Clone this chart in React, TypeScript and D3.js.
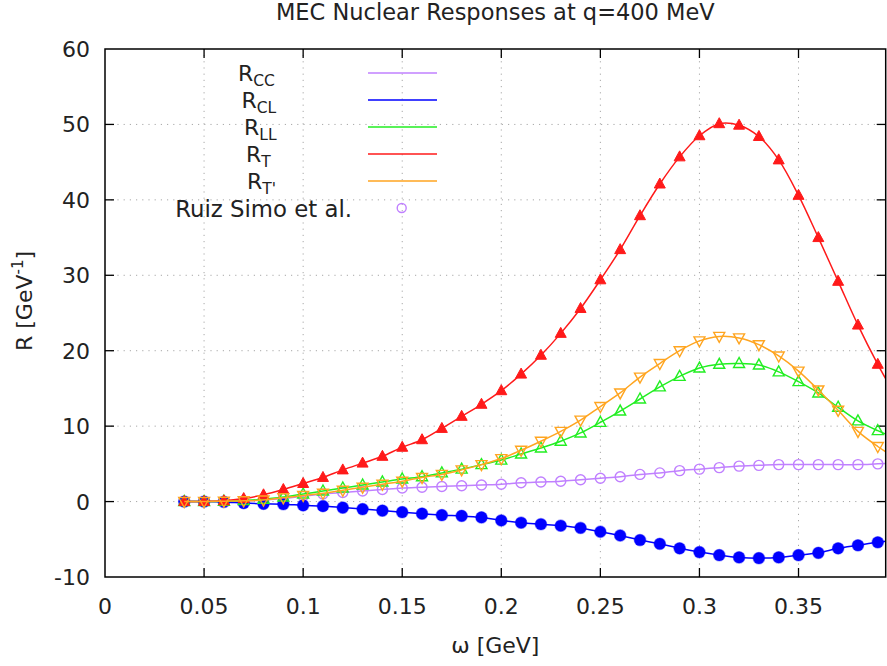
import React from "react";
import * as d3 from "d3";

const omega = [0.04,0.05,0.06,0.07,0.08,0.09,0.10,0.11,0.12,0.13,0.14,0.15,0.16,0.17,0.18,0.19,0.20,0.21,0.22,0.23,0.24,0.25,0.26,0.27,0.28,0.29,0.30,0.31,0.32,0.33,0.34,0.35,0.36,0.37,0.38,0.39,0.40];
const rCC = [0,0,0.05,0.1,0.2,0.4,0.7,1.0,1.2,1.4,1.6,1.8,1.9,2.0,2.1,2.2,2.3,2.5,2.6,2.7,2.9,3.1,3.3,3.6,3.8,4.1,4.3,4.5,4.7,4.8,4.9,4.9,4.9,4.9,4.9,5.0,5.1];
const rCL = [0,0,-0.05,-0.2,-0.3,-0.35,-0.5,-0.6,-0.8,-1.0,-1.2,-1.4,-1.6,-1.8,-1.9,-2.1,-2.5,-2.8,-3.0,-3.2,-3.5,-4.0,-4.5,-5.1,-5.6,-6.2,-6.7,-7.1,-7.4,-7.5,-7.4,-7.1,-6.8,-6.2,-5.8,-5.4,-5.1];
const rLL = [0,0,0.05,0.15,0.3,0.6,1.0,1.4,1.8,2.2,2.6,3.0,3.3,3.8,4.3,4.9,5.5,6.3,7.1,8.0,9.1,10.5,12.0,13.6,15.2,16.6,17.7,18.2,18.3,18.1,17.2,15.9,14.4,12.5,10.7,9.4,8.3];
const rT = [0,0.02,0.1,0.4,0.9,1.6,2.4,3.2,4.2,5.1,6.0,7.2,8.2,9.7,11.3,12.9,14.7,16.9,19.4,22.3,25.6,29.4,33.4,37.9,42.1,45.7,48.5,50.1,49.9,48.4,45.3,40.6,35.0,29.2,23.4,18.2,13.5];
const rTp = [0,0,0.05,0.1,0.2,0.5,0.8,1.1,1.5,1.9,2.3,2.7,3.2,3.6,4.2,4.9,5.7,6.8,8.0,9.3,10.8,12.6,14.4,16.5,18.3,20.0,21.3,21.9,21.7,20.8,19.3,17.3,14.8,12.1,9.3,7.3,5.6];

const xTicks = [0,0.05,0.1,0.15,0.2,0.25,0.3,0.35];
const xTickLabels = ["0","0.05","0.1","0.15","0.2","0.25","0.3","0.35"];
const yTicks = [-10,0,10,20,30,40,50,60];

const W = 887, H = 666;
const L = 105, R = 885.7, T = 49, B = 577;

type Marker = "circleOpen" | "circleFilled" | "triUpOpen" | "triUpFilled" | "triDownOpen";
const seriesDefs: { key: string; vals: number[]; color: string; marker: Marker }[] = [
  { key: "CC", vals: rCC, color: "#c080ff", marker: "circleOpen" },
  { key: "CL", vals: rCL, color: "#0000ff", marker: "circleFilled" },
  { key: "LL", vals: rLL, color: "#22ee22", marker: "triUpOpen" },
  { key: "T", vals: rT, color: "#ff1a1a", marker: "triUpFilled" },
  { key: "Tp", vals: rTp, color: "#ffa520", marker: "triDownOpen" },
];

function markerEl(m: Marker, x: number, y: number, color: string, k: string) {
  const s = 5.5;
  if (m === "circleOpen")
    return <circle key={k} cx={x} cy={y} r={5} fill="none" stroke={color} strokeWidth={1.4} />;
  if (m === "circleFilled")
    return <circle key={k} cx={x} cy={y} r={5.8} fill={color} stroke={color} strokeOpacity={0.4} strokeWidth={1.2} />;
  if (m === "triUpOpen" || m === "triUpFilled") {
    const p = `M${x},${y - 6}L${x - s},${y + 4}L${x + s},${y + 4}Z`;
    return m === "triUpFilled"
      ? <path key={k} d={p} fill={color} stroke={color} strokeWidth={1} />
      : <path key={k} d={p} fill="none" stroke={color} strokeWidth={1.4} />;
  }
  const p = `M${x},${y + 6}L${x - s},${y - 4}L${x + s},${y - 4}Z`;
  return <path key={k} d={p} fill="none" stroke={color} strokeWidth={1.4} />;
}

export default function App() {
  const x = d3.scaleLinear().domain([0, 0.394]).range([L, R]);
  const y = d3.scaleLinear().domain([-10, 60]).range([B, T]);
  const line = d3.line<number>().x((_, i) => x(omega[i])).y((v) => y(v)).curve(d3.curveCatmullRom.alpha(0.5));
  const font = "DejaVu Sans, sans-serif";

  const legendRows = [
    { sub: "CC", color: "#c080ff", tx: 238 },
    { sub: "CL", color: "#0000ff", tx: 241.5 },
    { sub: "LL", color: "#22ee22", tx: 244 },
    { sub: "T", color: "#ff1a1a", tx: 246 },
    { sub: "T'", color: "#ffa520", tx: 247 },
  ];

  return (
    <svg width={W} height={H} style={{ position: "absolute", left: 0, top: 0, background: "#fff" }} fontFamily={font}>
      <defs>
        <clipPath id="plotclip"><rect x={L} y={T} width={R - L} height={B - T} /></clipPath>
      </defs>
      <rect x={0} y={0} width={W} height={H} fill="#fff" />
      {/* grid */}
      <g stroke="#a8a8a8" strokeWidth={1} strokeDasharray="1.2,5">
        {xTicks.slice(1).map((t) => <line key={"gx" + t} x1={x(t)} x2={x(t)} y1={B} y2={T} />)}
        {yTicks.slice(1, -1).map((t) => <line key={"gy" + t} x1={L} x2={R} y1={y(t)} y2={y(t)} />)}
      </g>
      {/* ticks */}
      <g stroke="#000" strokeWidth={1.3}>
        {xTicks.slice(1).map((t) => (
          <g key={"tx" + t}>
            <line x1={x(t)} x2={x(t)} y1={B} y2={B - 9} />
            <line x1={x(t)} x2={x(t)} y1={T} y2={T + 9} />
          </g>
        ))}
        {yTicks.slice(1, -1).map((t) => (
          <g key={"ty" + t}>
            <line x1={L} x2={L + 9} y1={y(t)} y2={y(t)} />
            <line x1={R} x2={R - 9} y1={y(t)} y2={y(t)} />
          </g>
        ))}
      </g>
      {/* data */}
      <g clipPath="url(#plotclip)">
        {seriesDefs.map((s) => (
          <g key={s.key}>
            <path d={line(s.vals) || ""} fill="none" stroke={s.color} strokeWidth={1.5} />
            {s.vals.map((v, i) => markerEl(s.marker, x(omega[i]), y(v), s.color, s.key + i))}
          </g>
        ))}
      </g>
      {/* frame */}
      <rect x={L} y={T} width={R - L} height={B - T} fill="none" stroke="#000" strokeWidth={1.5} />
      {/* tick labels */}
      <g fontSize={22} fill="#222">
        {xTicks.map((t, i) => (
          <text key={"lx" + t} x={x(t)} y={614} textAnchor="middle">{xTickLabels[i]}</text>
        ))}
        {yTicks.map((t) => (
          <text key={"ly" + t} x={90} y={y(t) + 8} textAnchor="end">{t}</text>
        ))}
      </g>
      {/* title & axis labels */}
      <text x={(L + R) / 2} y={20} textAnchor="middle" fontSize={22.5} fill="#222">MEC Nuclear Responses at q=400 MeV</text>
      <text x={(L + R) / 2} y={653} textAnchor="middle" fontSize={22} fill="#222">ω [GeV]</text>
      <text transform="translate(32,301) rotate(-90)" textAnchor="middle" fontSize={22} fill="#222">
        R [GeV<tspan fontSize={15} dy={-9}>-1</tspan><tspan dy={9}>]</tspan>
      </text>
      {/* legend */}
      <g fontSize={22} fill="#222">
        {legendRows.map((r, i) => {
          const ry = 73 + i * 27;
          return (
            <g key={"leg" + i}>
              <text x={r.tx} y={ry + 8}>R<tspan fontSize={15.5} dy={4.5}>{r.sub}</tspan></text>
              <line x1={368} x2={437} y1={ry} y2={ry} stroke={r.color} strokeWidth={1.6} />
            </g>
          );
        })}
        <text x={352} y={217} textAnchor="end" fontSize={22.8}>Ruiz Simo et al.</text>
        <circle cx={401.7} cy={208} r={4.5} fill="none" stroke="#c080ff" strokeWidth={1.4} />
      </g>
    </svg>
  );
}
